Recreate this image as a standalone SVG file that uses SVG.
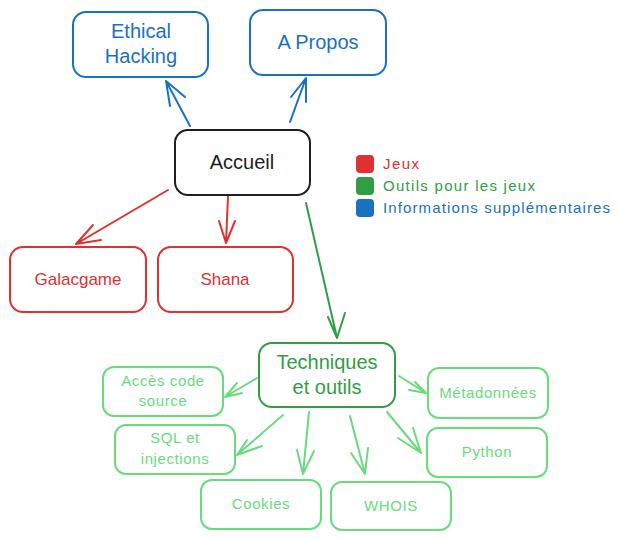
<svg xmlns="http://www.w3.org/2000/svg" width="620" height="540" viewBox="0 0 620 540">
<style>
.box{fill:#fff;stroke-width:2}
.t{font-family:"Liberation Sans",Arial,sans-serif;text-anchor:middle}
.s{font-size:15px;letter-spacing:0.6px}
.blue{stroke:#1971c2}.red{stroke:#e03131}.green{stroke:#2f9e44}.lg{stroke:#69db7c}.blk{stroke:#1e1e1e}
.tb{fill:#1971c2}.tr{fill:#e03131}.tg{fill:#2f9e44}.tl{fill:#69db7c}.tk{fill:#1e1e1e}
.c{fill:none;stroke-width:2;stroke-linecap:round;stroke-linejoin:round}
.lt{font-family:"Liberation Sans",Arial,sans-serif;font-size:15px}
</style>
<rect width="620" height="540" fill="#fff"/>
<g id="connectors">
<path class="c blue" d="M190 126 L166 81 M170 106 L166 81 L185 97"/>
<path class="c blue" d="M290 122 L306 78 M291 97 L306 78 L306 102"/>
<path class="c red" d="M168 190 L76 244 M93 225 L76 244 L101 240"/>
<path class="c red" d="M228 196 L226 243 M219 221 L226 243 L235 221"/>
<path class="c green" d="M306 203 L337 338 M328 317 L337 338 L345 313"/>
<path class="c lg" d="M257 378 L225 397 M237 383 L225 397 L242 393"/>
<path class="c lg" d="M283 415 L237 455 M247 440 L237 455 L262 446"/>
<path class="c lg" d="M309 412 L303 474 M297 450 L303 474 L314 451"/>
<path class="c lg" d="M350 416 L365 474 M351 453 L365 474 L368 448"/>
<path class="c lg" d="M387 412 L421 453 M398 438 L421 453 L413 428"/>
<path class="c lg" d="M399 376 L426 393 M409 390 L426 393 L415 382"/>
</g>
<g id="ethical"><rect class="box blue" x="73" y="12" width="135" height="65" rx="13"/><text class="t tb" font-size="20" x="141" y="38">Ethical</text><text class="t tb" font-size="20" x="141" y="63">Hacking</text></g>
<g id="apropos"><rect class="box blue" x="250" y="10" width="136" height="65" rx="13"/><text class="t tb" font-size="20" x="318" y="49">A Propos</text></g>
<g id="accueil"><rect class="box blk" x="175" y="130" width="135" height="65" rx="13"/><text class="t tk" font-size="20" x="242" y="169">Accueil</text></g>
<g id="galacgame"><rect class="box red" x="10" y="247" width="136" height="65" rx="13"/><text class="t tr" font-size="17" x="78" y="285">Galacgame</text></g>
<g id="shana"><rect class="box red" x="158" y="247" width="135" height="65" rx="13"/><text class="t tr" font-size="17" x="225" y="285">Shana</text></g>
<g id="legend">
<rect x="356" y="155" width="18" height="18" rx="4" fill="#e03131"/>
<rect x="356" y="177" width="18" height="18" rx="4" fill="#2f9e44"/>
<rect x="356" y="199" width="18" height="18" rx="4" fill="#1971c2"/>
<text class="lt tr" x="383" y="169" textLength="36">Jeux</text>
<text class="lt tg" x="383" y="191" textLength="152">Outils pour les jeux</text>
<text class="lt tb" x="383" y="213" textLength="227">Informations supplémentaires</text>
</g>
<g id="techniques"><rect class="box green" x="259" y="343" width="136" height="64" rx="13"/><text class="t tg" font-size="20" x="327" y="369">Techniques</text><text class="t tg" font-size="20" x="327" y="394">et outils</text></g>
<g id="acces"><rect class="box lg" x="103" y="367" width="120" height="49" rx="11"/><text class="t tl s" x="163" y="386">Accès code</text><text class="t tl s" x="163" y="406">source</text></g>
<g id="sql"><rect class="box lg" x="115" y="425" width="120" height="49" rx="11"/><text class="t tl s" x="175" y="443">SQL et</text><text class="t tl s" x="175" y="464">injections</text></g>
<g id="cookies"><rect class="box lg" x="201" y="480" width="120" height="49" rx="11"/><text class="t tl s" x="261" y="509">Cookies</text></g>
<g id="whois"><rect class="box lg" x="331" y="482" width="120" height="48" rx="11"/><text class="t tl s" x="391" y="511">WHOIS</text></g>
<g id="metadonnees"><rect class="box lg" x="428" y="368" width="120" height="50" rx="11"/><text class="t tl s" x="488" y="398">Métadonnées</text></g>
<g id="python"><rect class="box lg" x="427" y="428" width="120" height="49" rx="11"/><text class="t tl s" x="487" y="457">Python</text></g>
</svg>
